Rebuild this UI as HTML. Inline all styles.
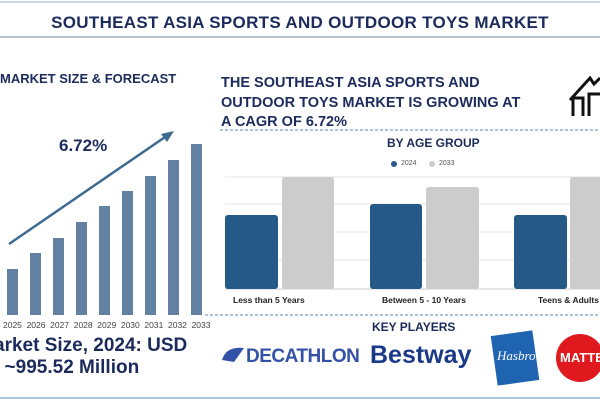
<!DOCTYPE html>
<html><head><style>
body{margin:0;width:600px;height:400px;overflow:hidden;background:#fff;font-family:"Liberation Sans",sans-serif;}
.t{position:absolute;font-weight:bold;color:#1b2b5b;white-space:nowrap}
</style></head><body>
<svg width="600" height="400" style="position:absolute;left:0;top:0">
<line x1="0" y1="2" x2="600" y2="2" stroke="#c8d8e8" stroke-width="2"/>
<line x1="0" y1="37" x2="600" y2="37" stroke="#b8c4d0" stroke-width="2"/>
<line x1="0" y1="398" x2="600" y2="398" stroke="#a8c8e0" stroke-width="2"/>
<line x1="220" y1="130" x2="600" y2="130" stroke="#5a8ab0" stroke-dasharray="3,2"/>
<line x1="205" y1="315" x2="600" y2="315" stroke="#5a8ab0" stroke-dasharray="3,2"/>
<g fill="#6381a2">
<rect x="7" y="269" width="11" height="46"/><rect x="30" y="253" width="11" height="62"/>
<rect x="53" y="238" width="11" height="77"/><rect x="76" y="222" width="11" height="93"/>
<rect x="99" y="206" width="11" height="109"/><rect x="122" y="191" width="11" height="124"/>
<rect x="145" y="176" width="11" height="139"/><rect x="168" y="160" width="11" height="155"/>
<rect x="191" y="144" width="11" height="171"/></g>
<line x1="9" y1="244" x2="168" y2="135" stroke="#3d6a90" stroke-width="2.5"/>
<polygon points="174,131 161,134 167,142" fill="#3d6a90"/>
<g stroke="#e4e4e4"><line x1="225" y1="177" x2="600" y2="177"/><line x1="225" y1="204" x2="600" y2="204"/><line x1="225" y1="232" x2="600" y2="232"/><line x1="225" y1="260" x2="600" y2="260"/></g>
<line x1="225" y1="289" x2="600" y2="289" stroke="#ccc"/>
<g fill="#255a88"><rect x="225" y="215" width="53" height="74" rx="3"/><rect x="370" y="204" width="52" height="85" rx="3"/><rect x="514" y="215" width="53" height="74" rx="3"/></g>
<g fill="#cccccc"><rect x="282" y="177" width="52" height="112" rx="3"/><rect x="426" y="187" width="53" height="102" rx="3"/><rect x="570" y="177" width="40" height="112" rx="3"/></g>
<circle cx="394" cy="164" r="3" fill="#255a88"/><circle cx="432" cy="164" r="3" fill="#ccc"/>
<g stroke="#111" stroke-width="3" fill="none"><polyline points="570,100 590,78 594,84 600,78"/><polyline points="573,116 573,98 583,98 583,116"/><polyline points="589,116 589,94 600,94"/></g>
<path d="M222,360 q4,-14 22,-12 l-10,14 z" fill="#3451a8"/>
<rect x="494" y="333" width="42" height="50" fill="#1f64b0" transform="rotate(-8 515 358)"/>
<circle cx="580" cy="358" r="24" fill="#e0191e"/>
</svg>
<div class="t" style="left:0;top:13px;width:600px;text-align:center;font-size:17px;letter-spacing:0.3px">SOUTHEAST ASIA SPORTS AND OUTDOOR TOYS MARKET</div>
<div class="t" style="left:0;top:71px;font-size:13px">MARKET SIZE &amp; FORECAST</div>
<div class="t" style="left:59px;top:136px;font-size:17px">6.72%</div>
<div class="t" style="left:221px;top:74px;font-size:14.5px;line-height:19.5px">THE SOUTHEAST ASIA SPORTS AND<br>OUTDOOR TOYS MARKET IS GROWING AT<br>A CAGR OF 6.72%</div>
<div class="t" style="left:387px;top:136px;font-size:12px">BY AGE GROUP</div>
<div style="position:absolute;left:401px;top:160px;font-size:7px;color:#555">2024</div>
<div style="position:absolute;left:439px;top:160px;font-size:7px;color:#555">2033</div>
<div style="position:absolute;left:3px;top:320px;font-size:8.5px;color:#444;white-space:nowrap;word-spacing:2.3px">2025 2026 2027 2028 2029 2030 2031 2032 2033</div>
<div class="t" style="left:233px;top:295px;font-size:8.5px;color:#222">Less than 5 Years</div>
<div class="t" style="left:382px;top:295px;font-size:8.5px;color:#222">Between 5 - 10 Years</div>
<div class="t" style="left:538px;top:295px;font-size:8.5px;color:#222">Teens &amp; Adults</div>
<div class="t" style="left:-6px;top:335px;font-size:19px;line-height:22px;color:#1b2b5b">arket Size, 2024: USD<br>&nbsp;&nbsp;~995.52 Million</div>
<div class="t" style="left:372px;top:320px;font-size:12px">KEY PLAYERS</div>
<div class="t" style="left:246px;top:346px;font-size:19px;color:#3451a8;letter-spacing:-0.5px">DECATHLON</div>
<div class="t" style="left:370px;top:341px;font-size:25px;color:#1a3a88">Bestway</div>
<div style="position:absolute;left:497px;top:348px;font-size:13px;color:#fff;font-style:italic;font-family:'Liberation Serif',serif">Hasbro</div>
<div class="t" style="left:560px;top:350px;font-size:13px;color:#fff">MATTE</div>
</body></html>
